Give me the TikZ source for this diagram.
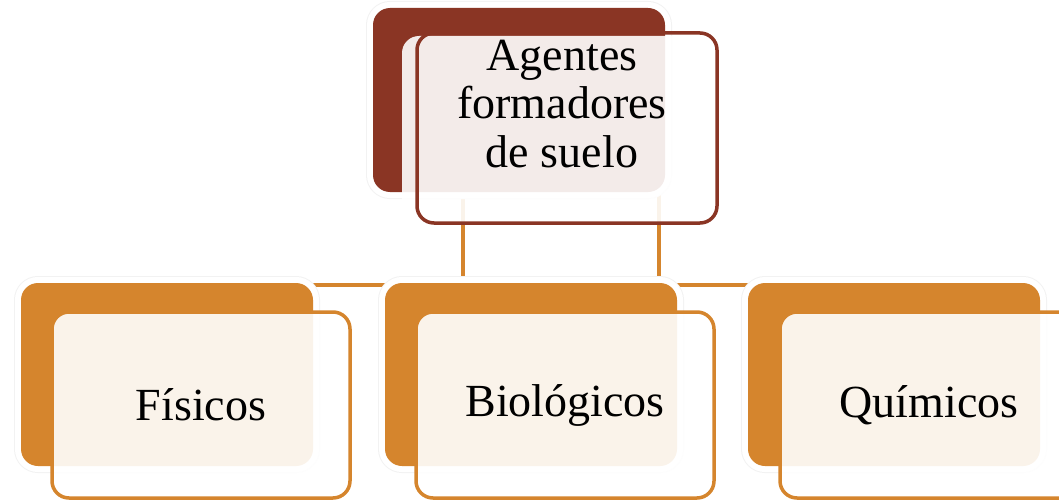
\documentclass[tikz,border=0pt]{standalone}
\usepackage{fontspec}
\setmainfont{Liberation Serif}
\usetikzlibrary{backgrounds}
\definecolor{brownA}{HTML}{8A3524}
\definecolor{orangeA}{HTML}{D5852D}
\begin{document}
\begin{tikzpicture}[x=1pt,y=-1pt,
  every node/.style={outer sep=0pt},
  backbox/.style={rectangle, rounded corners=17pt, inner sep=0pt, anchor=north west,
    minimum width=292pt, minimum height=183pt,
    preaction={draw=black!5, line width=14pt},
    preaction={draw=white, line width=12pt},
    fill=#1},
  frontbox/.style={rectangle, rounded corners=17pt, inner sep=0pt, anchor=north west,
    minimum width=298pt, minimum height=186pt,
    draw=#1, line width=3.5pt, fill=white, fill opacity=0.9, text opacity=1},
  lbl/.style={font=\fontsize{46}{48.5}\selectfont},
  conn/.style={draw=orangeA, line width=3.5pt}]
\useasboundingbox (0,0) rectangle (1059,500);

% back boxes
\node[backbox=brownA, minimum height=184pt] (topback) at (373,8) {};
\node[backbox=orangeA] (fisback) at (21,283) {};
\node[backbox=orangeA] (bioback) at (385,283) {};
\node[backbox=orangeA] (quiback) at (748,283) {};

% top front box: fill and border slightly offset, as in the reference
\node[rectangle, rounded corners=17pt, inner sep=0pt, anchor=north west,
  minimum width=300pt, minimum height=187pt, fill=white, fill opacity=0.9]
  (topfill) at (402,36) {};
\node[rectangle, rounded corners=17pt, inner sep=0pt, anchor=north west,
  minimum width=300pt, minimum height=190pt, draw=brownA, line width=3.5pt]
  (topfront) at (417,33) {};
\node[lbl, align=center, inner sep=0pt] (toptext) at (562,104)
  {Agentes\\formadores\\de suelo};

% bottom front boxes
\node[frontbox=orangeA, lbl] (fis) at (52,312) {Físicos};
\node[frontbox=orangeA, lbl] (bio) at (416,312) {Biológicos};
\node[frontbox=orangeA, lbl] (qui) at (780,312) {Químicos};

% connectors, behind everything
\coordinate (c1) at (463,192);
\coordinate (c2) at (659,192);
\begin{scope}[on background layer]
  \draw[conn] (c1) |- ([yshift=-2pt]fisback.north east);
  \draw[conn] (c2) |- ([yshift=-2pt]quiback.north west);
\end{scope}
\end{tikzpicture}
\end{document}
